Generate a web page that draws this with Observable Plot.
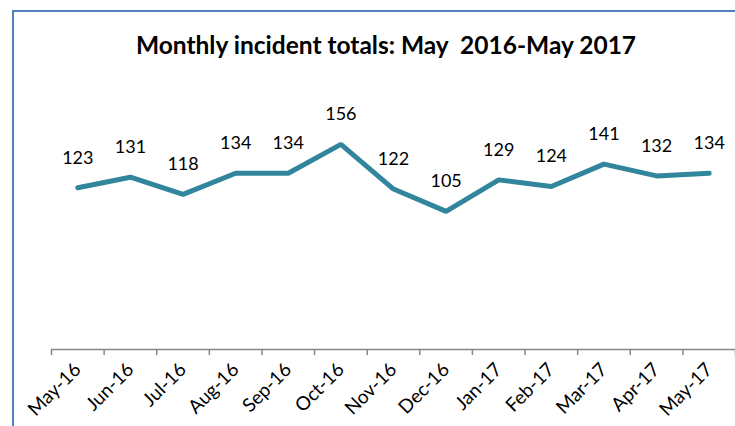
<!DOCTYPE html>
<html>
<head>
<meta charset="utf-8">
<script src="https://cdn.jsdelivr.net/npm/d3@7"></script>
<script src="https://cdn.jsdelivr.net/npm/@observablehq/plot@0.6"></script>
<style>
  html, body { margin: 0; padding: 0; background: #fff; overflow: hidden; }
  #wrap { position: relative; width: 735px; height: 426px; overflow: hidden; }
  #frame { position: absolute; left: 12px; top: 10px; width: 900px; height: 600px;
           border-left: 2px solid #4F81BD; border-top: 2px solid #4F81BD; box-sizing: border-box; }
  #title { position: absolute; left: 0; width: 772px; top: 33px; text-align: center;
           font-family: Lato, "Noto Sans", sans-serif; font-weight: bold; font-size: 24.5px;
           white-space: pre; color: #000; line-height: 1; }
  #chart { position: absolute; left: 0; top: 0; }
</style>
</head>
<body>
<div id="wrap">
  <div id="frame"></div>
  <div id="title">Monthly incident totals: May  2016-May 2017</div>
  <div id="chart"></div>
</div>
<script>
const months = ["May-16","Jun-16","Jul-16","Aug-16","Sep-16","Oct-16","Nov-16","Dec-16","Jan-17","Feb-17","Mar-17","Apr-17","May-17"];
const incidents = [123, 131, 118, 134, 134, 156, 122, 105, 129, 124, 141, 132, 134];

const data = months.map((m, i) => ({i, month: m, value: incidents[i]}));
const boundaries = d3.range(-0.5, months.length, 1);

const chart = Plot.plot({
  width: 735,
  height: 426,
  marginLeft: 51,
  marginRight: 0,
  marginTop: 86,
  marginBottom: 77,
  style: {fontFamily: "Lato, 'Noto Sans', sans-serif", background: "transparent", overflow: "visible"},
  x: {type: "linear", domain: [-0.5, months.length - 0.5], label: null},
  y: {domain: [0, 200], axis: null},
  marks: [
    Plot.ruleY([0], {stroke: "#868686", strokeWidth: 1.5}),
    Plot.axisX({ticks: boundaries, tickSize: 6, tickFormat: () => "", stroke: "#868686", strokeWidth: 1.5, strokeOpacity: 1, label: null}),
    Plot.axisX({ticks: d3.range(months.length), tickSize: 0, tickPadding: 17, tickRotate: -45,
                tickFormat: i => months[i], fontSize: 19, fill: "#000", label: null}),
    Plot.line(data, {x: "i", y: "value", stroke: "#31859C", strokeWidth: 5, strokeLinejoin: "miter"}),
    Plot.text(data, {x: "i", y: "value", text: d => String(d.value), dy: -30, fontSize: 18, fill: "#000"})
  ]
});
document.getElementById("chart").appendChild(chart);
</script>
</body>
</html>
